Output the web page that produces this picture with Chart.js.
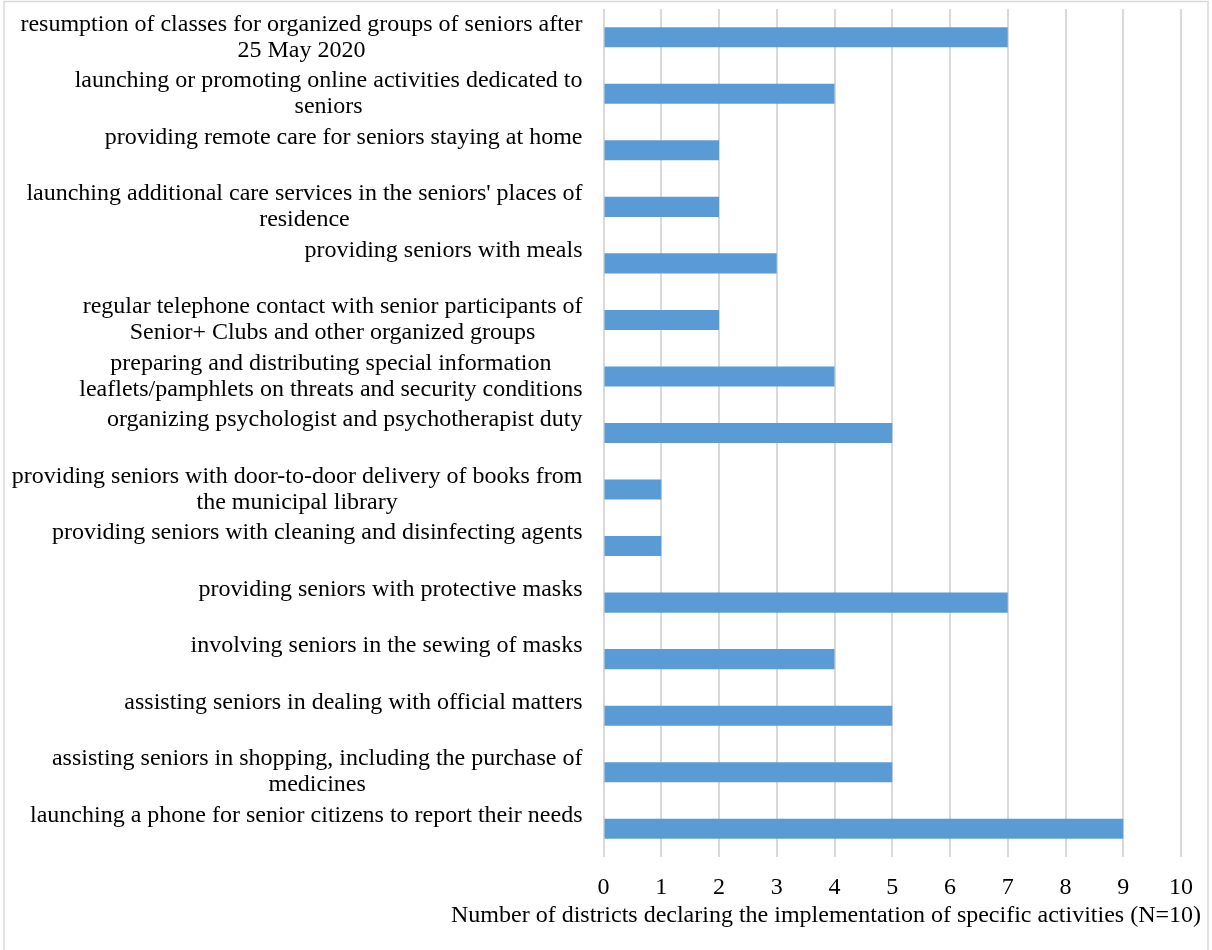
<!DOCTYPE html>
<html>
<head>
<meta charset="utf-8">
<title>Senior support activities by district</title>
<script src="https://cdn.jsdelivr.net/npm/chart.js@4/dist/chart.umd.min.js"></script>
<style>
  html, body { margin: 0; padding: 0; background: #fff; }
  #wrap { width: 1212px; height: 950px; position: relative; }
</style>
</head>
<body>
<div id="wrap"><canvas id="activities"></canvas></div>
<script>
"use strict";

// one entry per activity, each line of the wrapped label as a string
const activityLabels = [
  ["resumption of classes for organized groups of seniors after", "25 May 2020"],
  ["launching or promoting online activities dedicated to", "seniors"],
  ["providing remote care for seniors staying at home"],
  ["launching additional care services in the seniors' places of", "residence"],
  ["providing seniors with meals"],
  ["regular telephone contact with senior participants of", "Senior+ Clubs and other organized groups"],
  ["preparing and distributing special information", "leaflets/pamphlets on threats and security conditions"],
  ["organizing psychologist and psychotherapist duty"],
  ["providing seniors with door-to-door delivery of books from", "the municipal library"],
  ["providing seniors with cleaning and disinfecting agents"],
  ["providing seniors with protective masks"],
  ["involving seniors in the sewing of masks"],
  ["assisting seniors in dealing with official matters"],
  ["assisting seniors in shopping, including the purchase of", "medicines"],
  ["launching a phone for senior citizens to report their needs"],
];

const districtCounts = [7, 4, 2, 2, 3, 2, 4, 5, 1, 1, 7, 4, 5, 5, 9];

const axisTicks = [0, 1, 2, 3, 4, 5, 6, 7, 8, 9, 10];

const axisTitle = "Number of districts declaring the implementation of specific activities (N=10)";

const FONT = "'Liberation Serif', 'Times New Roman', serif";
const FONT_SIZE = 24;

// wrapped category labels: each block right-aligned to the plot, lines centred within it
const categoryLabels = {
  id: 'categoryLabels',
  afterDraw(chart) {
    const ctx = chart.ctx;
    const yScale = chart.scales.y;
    const right = chart.chartArea.left - 21;
    const lineGap = 26;
    ctx.save();
    ctx.font = FONT_SIZE + "px " + FONT;
    ctx.fillStyle = '#000';
    ctx.textAlign = 'center';
    ctx.textBaseline = 'middle';
    activityLabels.forEach((lines, i) => {
      const widest = Math.max(...lines.map(l => ctx.measureText(l).width));
      const cx = right - widest / 2;
      const top = yScale.getPixelForValue(i) - lineGap / 2;
      lines.forEach((line, k) => ctx.fillText(line, cx, top + k * lineGap));
    });
    ctx.restore();
  }
};

// value axis title and the thin frame round the chart
const chartDecor = {
  id: 'chartDecor',
  afterDraw(chart) {
    const ctx = chart.ctx;
    ctx.save();
    ctx.font = FONT_SIZE + "px " + FONT;
    ctx.fillStyle = '#000';
    ctx.textAlign = 'center';
    ctx.textBaseline = 'middle';
    ctx.fillText(axisTitle, 826, 916);
    ctx.strokeStyle = '#d9d9d9';
    ctx.lineWidth = 1.5;
    ctx.strokeRect(4, 1.5, 1204, 960);
    ctx.restore();
  }
};

new Chart(document.getElementById('activities'), {
  type: 'bar',
  data: {
    labels: activityLabels.map(l => l.join(' ')),
    datasets: [{
      data: districtCounts,
      backgroundColor: '#5b9bd5',
      borderWidth: 0,
      categoryPercentage: 1,
      barPercentage: 0.355,
    }]
  },
  options: {
    indexAxis: 'y',
    responsive: true,
    maintainAspectRatio: false,
    animation: false,
    layout: { padding: { top: 9, right: 31, bottom: 0, left: 0 } },
    plugins: {
      legend: { display: false },
      tooltip: { enabled: false },
    },
    scales: {
      x: {
        min: 0,
        max: 10,
        afterBuildTicks: (scale) => { scale.ticks = axisTicks.map(v => ({ value: v })); },
        afterFit: (scale) => { scale.height = 93; },
        grid: { color: '#d9d9d9', lineWidth: 2, drawTicks: false },
        border: { display: false },
        ticks: {
          padding: 16,
          color: '#000',
          font: { family: FONT, size: FONT_SIZE },
        },
      },
      y: {
        afterFit: (scale) => { scale.width = 603.5; },
        grid: { display: false },
        border: { display: false },
        ticks: { display: false },
      }
    }
  },
  plugins: [categoryLabels, chartDecor]
});
</script>
</body>
</html>
